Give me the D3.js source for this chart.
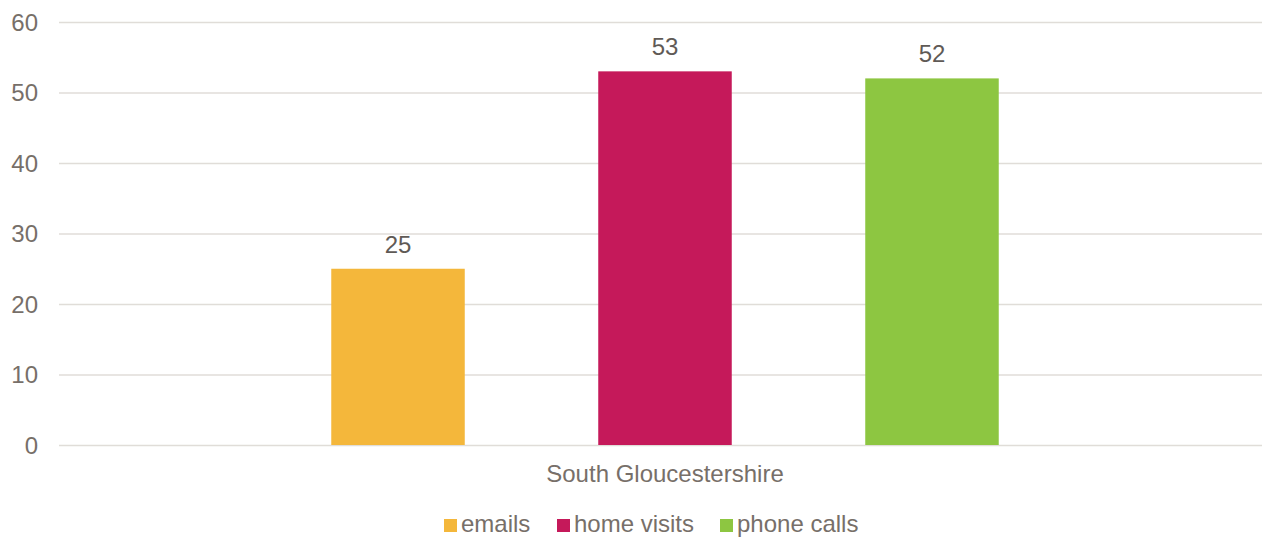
<!DOCTYPE html>
<html><head><meta charset="utf-8">
<script src="https://cdn.jsdelivr.net/npm/d3@7"></script>
<style>body{margin:0;background:#fff}svg{display:block}text{font-family:"Liberation Sans",Arial,sans-serif}</style>
</head><body><svg id="c" width="1263" height="537"></svg>
<script>
const categories = ["South Gloucestershire"];
const series = ["emails", "home visits", "phone calls"];
const values = [[25, 53, 52]];
const colors = ["#F4B73B", "#C5195A", "#8DC641"];
const yTicks = [0, 10, 20, 30, 40, 50, 60];

const svg = d3.select("#c");
const y = d3.scaleLinear().domain([0, 60]).range([445, 22]);
const x0 = d3.scaleBand().domain(categories).range([68, 1262]);
const x1 = d3.scaleBand().domain(series).range([0, x0.bandwidth()]).paddingInner(0.5).paddingOuter(0.986);

const axisColor = "#776f69";
const fs = "24px";
const yAxis = d3.axisLeft(y).tickValues(yTicks).tickSize(-(1262 - 59)).tickPadding(21);
const gy = svg.append("g").attr("transform", "translate(59,0)").call(yAxis);
gy.select(".domain").remove();
gy.selectAll(".tick line").attr("stroke", "#e0ddd8").attr("stroke-width", 1.5);
gy.selectAll(".tick text").attr("fill", axisColor).style("font-size", fs).attr("dy", "0.35em");

const g = svg.append("g");
categories.forEach((c, ci) => {
  series.forEach((s, si) => {
    const v = values[ci][si];
    const bx = x0(c) + x1(s);
    g.append("rect").attr("x", bx).attr("y", y(v)).attr("width", x1.bandwidth())
      .attr("height", y(0) - y(v)).attr("fill", colors[si]);
    g.append("text").attr("x", bx + x1.bandwidth() / 2).attr("y", y(v) - 16)
      .attr("text-anchor", "middle").attr("fill", "#5f5a56").style("font-size", fs).text(v);
  });
});

const xAxis = d3.axisBottom(x0).tickSize(0).tickPadding(20);
const gx = svg.append("g").attr("transform", "translate(0,445)").call(xAxis);
gx.select(".domain").remove();
gx.selectAll(".tick text").attr("fill", axisColor).style("font-size", fs).style("font-family", '"Liberation Sans",Arial,sans-serif');

const legendX = [444, 557, 720];
const lg = svg.append("g");
series.forEach((s, i) => {
  lg.append("rect").attr("x", legendX[i]).attr("y", 519).attr("width", 13).attr("height", 13).attr("fill", colors[i]);
  lg.append("text").attr("x", legendX[i] + 17).attr("y", 532).attr("fill", axisColor).style("font-size", fs).text(s);
});
</script></body></html>
